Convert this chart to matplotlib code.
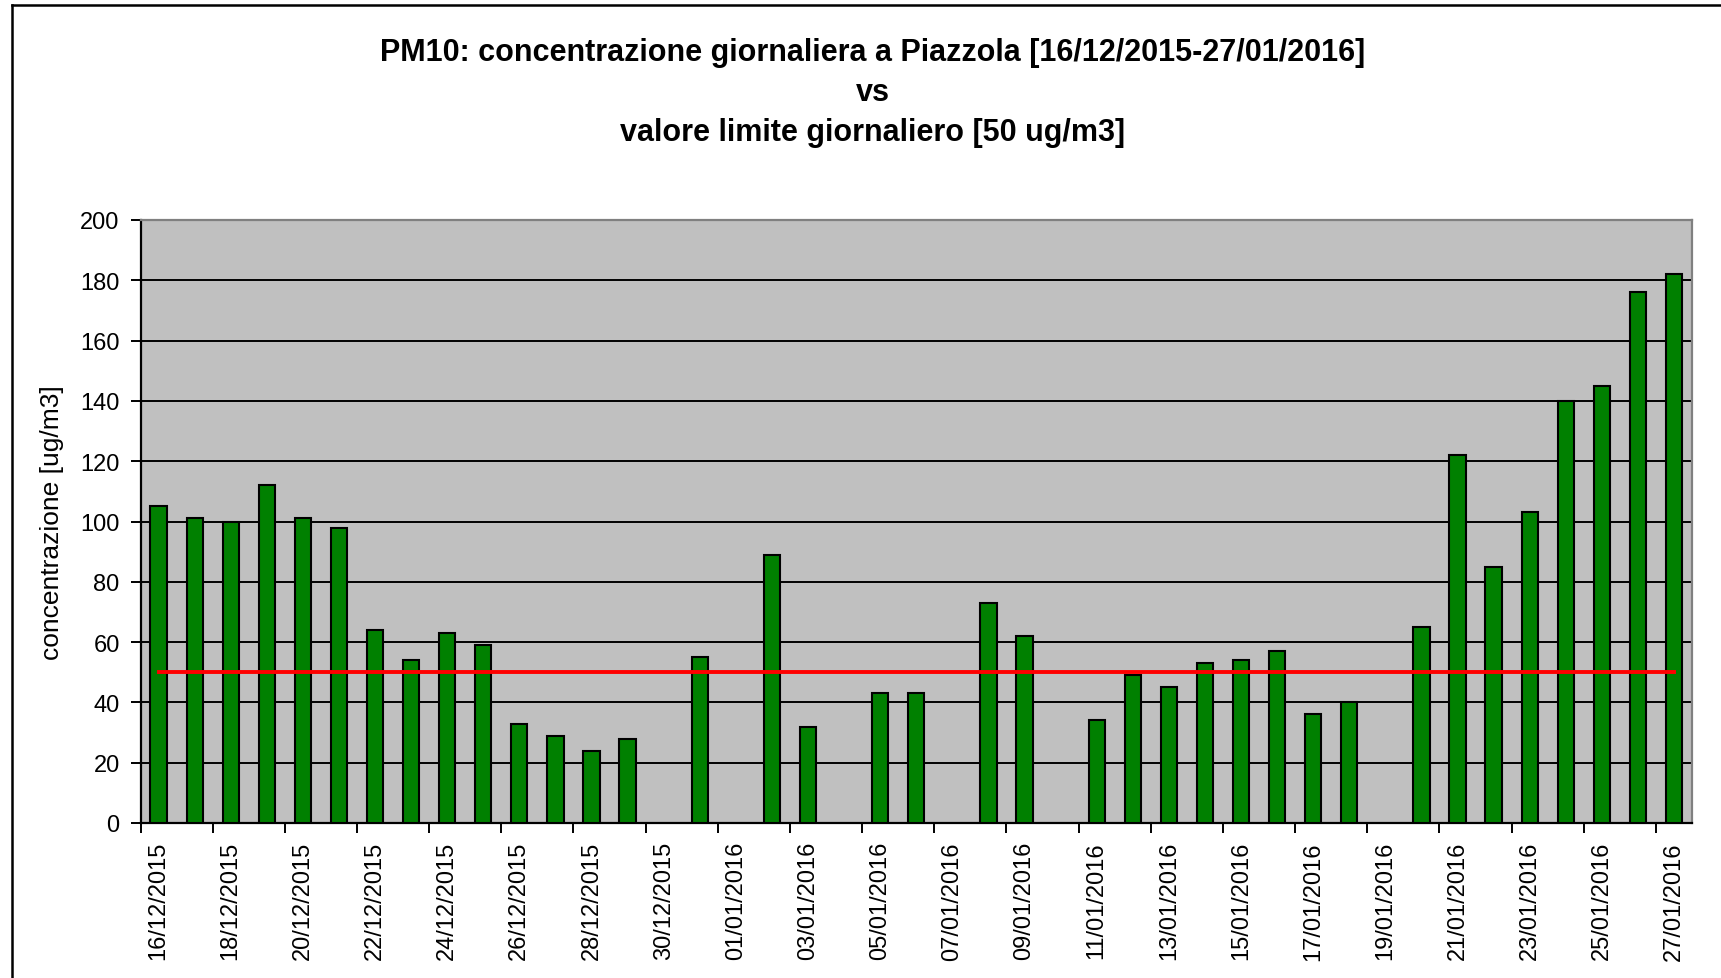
import numpy as np
import pandas as pd
import matplotlib
matplotlib.use("Agg")
import matplotlib.pyplot as plt
from matplotlib.lines import Line2D

# ---- data ----
dates = pd.date_range("2015-12-16", "2016-01-27", freq="D")
date_labels = [d.strftime("%d/%m/%Y") for d in dates]
pm10 = [105, 101, 100, 112, 101, 98, 64, 54, 63, 59, 33, 29, 24, 28,
        np.nan, 55, np.nan, 89, 32, np.nan, 43, 43, np.nan, 73, 62, np.nan,
        34, 49, 45, 53, 54, 57, 36, 40, np.nan, 65, 122, 85, 103, 140, 145,
        176, 182]
limit_value = 50
limit = [limit_value] * len(dates)
yticks = list(range(0, 201, 20))

title_lines = ["PM10: concentrazione giornaliera a Piazzola [16/12/2015-27/01/2016]",
               "vs",
               "valore limite giornaliero [50 ug/m3]"]
ylabel = "concentrazione [ug/m3]"

plt.rcParams['font.family'] = ['Liberation Sans', 'DejaVu Sans']

W, H = 1721, 979
fig = plt.figure(figsize=(W / 100, H / 100), dpi=100)
fig.patch.set_facecolor("white")

# chart-area frame (top and left edges visible)
fig.add_artist(Line2D([11.5 / W, 11.5 / W], [0, 1 - 5.5 / H], color="black", lw=1.8,
                      transform=fig.transFigure))
fig.add_artist(Line2D([11.5 / W, 1], [1 - 5.5 / H, 1 - 5.5 / H], color="black", lw=1.8,
                      transform=fig.transFigure))

left, right, top, bottom = 140.5, 1692, 221, 824
ax = fig.add_axes([left / W, 1 - bottom / H, (right - left) / W, (bottom - top) / H])
ax.set_facecolor("#C0C0C0")

x = np.arange(len(dates))
ax.bar(x, pm10, width=0.45, color="#008000", edgecolor="black", linewidth=1.5, zorder=3)
ax.plot(x, limit, color="#FF0000", lw=2.8, zorder=4)

ax.set_xlim(-0.5, len(dates) - 0.5)
ax.set_ylim(0, 200)
ax.set_yticks(yticks)
ax.set_yticklabels([str(v) for v in yticks], fontsize=17)
for v in yticks[1:-1]:
    ax.axhline(v, color="black", lw=1.4, zorder=1)

# x ticks at category boundaries every two categories, labels on even categories
ax.set_xticks(np.arange(-0.5, len(dates) - 1, 2))
ax.set_xticklabels([])
ax.set_xticks(x[::2], minor=True)
ax.set_xticklabels([date_labels[i] for i in x[::2]], minor=True, rotation=90,
                   fontsize=17, va="top", ha="center")
ax.tick_params(axis="x", which="minor", length=0, pad=13)
ax.tick_params(axis="x", which="major", length=7, width=1.4, direction="out")
ax.tick_params(axis="y", length=7, width=1.4, direction="out", pad=8)

for s in ["left", "bottom"]:
    ax.spines[s].set_color("black")
    ax.spines[s].set_linewidth(1.6)
for s in ["top", "right"]:
    ax.spines[s].set_color("#808080")
    ax.spines[s].set_linewidth(1.6)

ax.set_ylabel(ylabel, fontsize=19)
ax.yaxis.set_label_coords(-0.049, 0.5)

for yy, line in zip([53, 93, 133], title_lines):
    fig.text(0.507, 1 - yy / H, line, ha="center", va="center", fontsize=22,
             fontweight="bold")

fig.savefig("out.png", dpi=100)
